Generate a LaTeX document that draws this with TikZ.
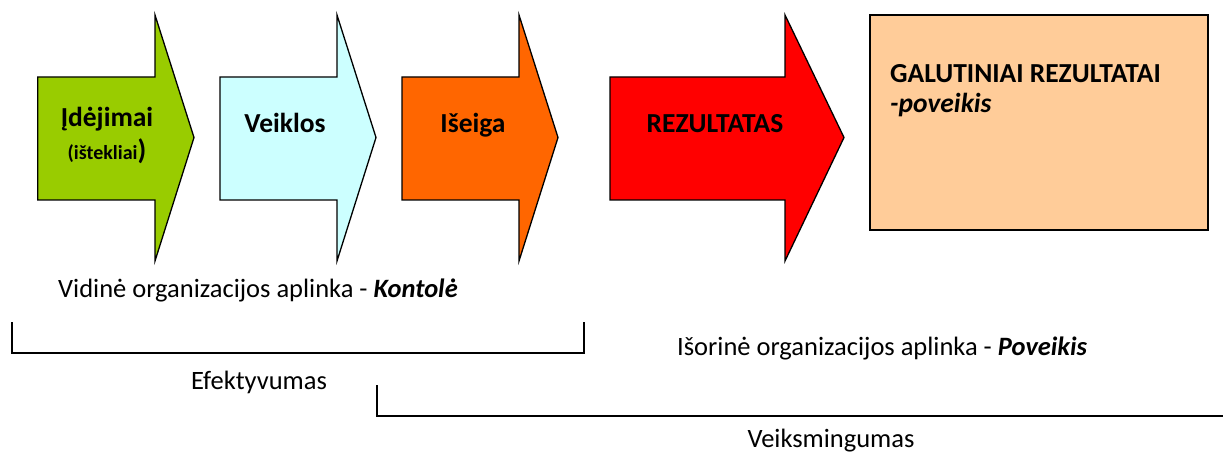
\documentclass[tikz,border=0pt]{standalone}
\usepackage{fontspec}
\setmainfont{Carlito}
\begin{document}
\begin{tikzpicture}[x=1pt,y=-1pt,
  arr/.style={draw=black, line width=1.3pt, line join=miter},
  lbl/.style={font=\fontsize{27.5}{32}\selectfont\bfseries, inner sep=0pt, anchor=base},
  low/.style={font=\fontsize{26.5}{30}\selectfont, inner sep=0pt, anchor=base west},
  brk/.style={draw=black, line width=1.3pt}]
\useasboundingbox (0,0) rectangle (1223,454);
\definecolor{cgreen}{HTML}{99CC00}
\definecolor{ccyan}{HTML}{CCFFFF}
\definecolor{corange}{HTML}{FF6600}
\definecolor{cred}{HTML}{FF0000}
\definecolor{cpeach}{HTML}{FFCC99}
% arrows
\path[arr, fill=cgreen] (37.7,77) -- (155,77) -- (155,15) -- (194,137.5) -- (155,261) -- (155,200) -- (37.7,200) -- cycle;
\path[arr, fill=ccyan] (220,77) -- (337,77) -- (337,15) -- (376,137.5) -- (337,261) -- (337,200) -- (220,200) -- cycle;
\path[arr, fill=corange] (402,77) -- (519,77) -- (519,15) -- (558,137.5) -- (519,261) -- (519,200) -- (402,200) -- cycle;
\path[arr, fill=cred] (610,77) -- (785,77) -- (785,15) -- (844,137.5) -- (785,261) -- (785,200) -- (610,200) -- cycle;
% final box
\path[draw=black, line width=1.6pt, fill=cpeach] (870,15) rectangle (1208,230);
% labels
\node[lbl] (in) at (107,127) {Įdėjimai};
\node[inner sep=0pt, anchor=base] (res) at (107,160) {\bfseries{\fontsize{20}{24}\selectfont(ištekliai}{\fontsize{28}{32}\selectfont)}};
\node[lbl] (act) at (285,133) {Veiklos};
\node[lbl] (out) at (473,133) {Išeiga};
\node[lbl] (rez) at (715,133) {REZULTATAS};
\node[lbl, anchor=base west] (gal) at (890,83) {GALUTINIAI REZULTATAI};
\node[lbl, anchor=base west] (pov) at (890,113) {\itshape -poveikis};
% lower texts
\node[low] (vid) at (58,298) {Vidinė organizacijos aplinka - \textbf{\textit{Kontolė}}};
\node[low] (isor) at (677,355) {Išorinė organizacijos aplinka - \textbf{\textit{Poveikis}}};
\node[low, anchor=base] (ef) at (259,389) {Efektyvumas};
\node[low, anchor=base] (veik) at (831,447) {Veiksmingumas};
% brackets
\coordinate (b1a) at (12,322);
\coordinate (b1b) at (584,322);
\draw[brk] (b1a) -- (b1a |- 0,353) -- (b1b |- 0,353) -- (b1b);
\coordinate (b2a) at (377,385);
\coordinate (b2b) at (1223,416);
\draw[brk] (b2a) -- (b2a |- b2b) -- (b2b);
\end{tikzpicture}
\end{document}
